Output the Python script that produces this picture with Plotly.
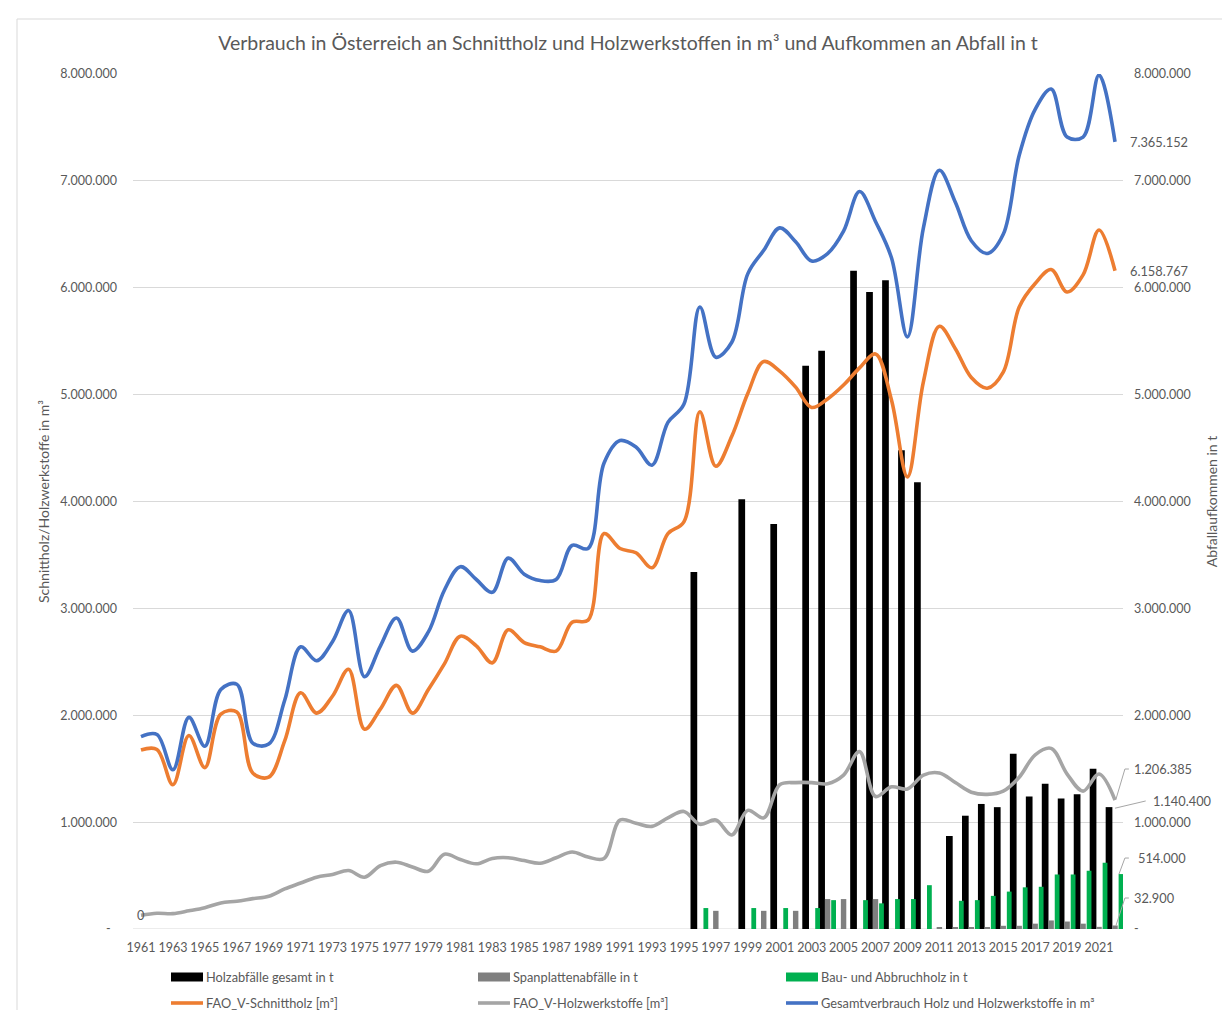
import plotly.graph_objects as go

# ---------------- data ----------------
years = list(range(1961, 2023))

# FAO_V-Schnittholz [m³]
schnittholz = [
    1675000, 1680000, 1350000, 1810000, 1510000, 2010000, 2030000, 1460000, 1420000, 1760000,
    2210000, 2020000, 2180000, 2430000, 1870000, 2060000, 2280000, 2020000, 2240000, 2480000,
    2740000, 2650000, 2490000, 2800000, 2680000, 2640000, 2600000, 2870000, 2890000, 3700000,
    3560000, 3520000, 3380000, 3700000, 3810000, 4840000, 4330000, 4610000, 5010000, 5310000,
    5220000, 5070000, 4880000, 4960000, 5090000, 5250000, 5380000, 4950000, 4230000, 5120000,
    5640000, 5430000, 5160000, 5060000, 5210000, 5820000, 6040000, 6170000, 5960000, 6120000,
    6540000, 6158767,
]

# FAO_V-Holzwerkstoffe [m³]
holzwerkstoffe = [
    128000, 147000, 144000, 170000, 200000, 244000, 260000, 284000, 306000, 375000,
    430000, 485000, 510000, 547000, 485000, 594000, 625000, 580000, 540000, 700000,
    650000, 610000, 660000, 667000, 640000, 616000, 667000, 720000, 673000, 660000,
    1020000, 990000, 960000, 1040000, 1100000, 980000, 1020000, 880000, 1110000, 1040000,
    1350000, 1370000, 1370000, 1360000, 1440000, 1660000, 1240000, 1330000, 1310000, 1440000,
    1460000, 1370000, 1280000, 1260000, 1290000, 1420000, 1630000, 1690000, 1450000, 1290000,
    1450000, 1206385,
]

# Gesamtverbrauch Holz und Holzwerkstoffe in m³
gesamt = [
    1800000, 1820000, 1490000, 1980000, 1710000, 2240000, 2290000, 1740000, 1730000, 2140000,
    2640000, 2510000, 2690000, 2980000, 2360000, 2650000, 2910000, 2600000, 2780000, 3170000,
    3390000, 3270000, 3150000, 3470000, 3320000, 3260000, 3270000, 3590000, 3560000, 4360000,
    4570000, 4510000, 4340000, 4740000, 4910000, 5820000, 5350000, 5490000, 6130000, 6350000,
    6560000, 6430000, 6250000, 6320000, 6530000, 6900000, 6620000, 6280000, 5540000, 6560000,
    7100000, 6800000, 6440000, 6320000, 6500000, 7240000, 7670000, 7860000, 7410000, 7410000,
    7990000, 7365152,
]

# Holzabfälle gesamt in t
abfall_jahre = [1996, 1999, 2001, 2003, 2004, 2006, 2007, 2008, 2009, 2010,
                2012, 2013, 2014, 2015, 2016, 2017, 2018, 2019, 2020, 2021, 2022]
abfall_gesamt = [3340000, 4020000, 3790000, 5270000, 5410000, 6160000, 5960000, 6070000, 4480000, 4180000,
                 870000, 1060000, 1170000, 1140000, 1640000, 1240000, 1360000, 1220000, 1260000, 1500000, 1140400]

# Spanplattenabfälle in t
span_jahre = [1997, 2000, 2002, 2004, 2005, 2007, 2011, 2012, 2013, 2014,
              2015, 2016, 2017, 2018, 2019, 2020, 2021, 2022]
span_abfall = [170000, 170000, 170000, 280000, 280000, 280000, 12000, 10000, 10000, 12000,
               30000, 30000, 50000, 80000, 70000, 50000, 20000, 32900]

# Bau- und Abbruchholz in t
bau_jahre = [1996, 1999, 2001, 2003, 2004, 2006, 2007, 2008, 2009, 2010,
             2012, 2013, 2014, 2015, 2016, 2017, 2018, 2019, 2020, 2021, 2022]
bau_abbruch = [196000, 196000, 196000, 196000, 270000, 270000, 240000, 280000, 280000, 410000,
               264000, 270000, 310000, 350000, 390000, 395000, 510000, 510000, 545000, 620000, 514000]

tick_years = list(range(1961, 2022, 2))
y_ticks = list(range(0, 8000001, 1000000))


def fmt(v):
    return "-" if v == 0 else f"{v:,}".replace(",", ".")


y_ticktext_left = [fmt(v) if v else "-\u00a0\u00a0" for v in y_ticks]
y_ticktext_right = [fmt(v) for v in y_ticks]

# ---------------- style ----------------
FONT = "Lato"
TXT = "#595959"
GRID = "#D9D9D9"
C_BLACK = "#000000"
C_SPAN = "#7F7F7F"
C_GREEN = "#00B050"
C_ORANGE = "#ED7D31"
C_GRAYL = "#A5A5A5"
C_BLUE = "#4472C4"

W, H = 1230, 1010
ML, MR, MT, MB = 125, 115, 66, 89
PW, PH = W - ML - MR, H - MT - MB


def px_x(px):
    return (px - ML) / PW


def px_y(py):
    return (H - MB - py) / PH


fig = go.Figure()

# bars (waste, right axis "y")
fig.add_trace(go.Bar(x=abfall_jahre, y=abfall_gesamt, name="Holzabfälle gesamt in t",
                     marker_color=C_BLACK, marker_line_width=0, width=0.42, offset=-0.585,
                     yaxis="y", showlegend=False))
fig.add_trace(go.Bar(x=span_jahre, y=span_abfall, name="Spanplattenabfälle in t",
                     marker_color=C_SPAN, marker_line_width=0, width=0.34, offset=-0.17,
                     yaxis="y", showlegend=False))
fig.add_trace(go.Bar(x=bau_jahre, y=bau_abbruch, name="Bau- und Abbruchholz in t",
                     marker_color=C_GREEN, marker_line_width=0, width=0.3, offset=0.225,
                     yaxis="y", showlegend=False))

# lines (consumption, left axis "y2")
line_kw = dict(mode="lines", line_shape="spline", yaxis="y2", showlegend=False)
fig.add_trace(go.Scatter(x=years, y=schnittholz, name="FAO_V-Schnittholz [m³]",
                         line=dict(color=C_ORANGE, width=3.6, smoothing=1), **line_kw))
fig.add_trace(go.Scatter(x=years, y=holzwerkstoffe, name="FAO_V-Holzwerkstoffe [m³]",
                         line=dict(color=C_GRAYL, width=3.6, smoothing=1), **line_kw))
fig.add_trace(go.Scatter(x=years, y=gesamt, name="Gesamtverbrauch Holz und Holzwerkstoffe in m³",
                         line=dict(color=C_BLUE, width=3.6, smoothing=1), **line_kw))

X0, X1 = 1960.5, 2022.5


def xp(year):
    return (year - X0) / (X1 - X0)


fig.update_layout(
    width=W, height=H,
    margin=dict(l=ML, r=MR, t=MT, b=MB),
    paper_bgcolor="white", plot_bgcolor="white",
    font=dict(family=FONT, color=TXT, size=12.5),
    title=dict(text="Verbrauch in Österreich an Schnittholz und Holzwerkstoffen in m³ und Aufkommen an Abfall in t",
               x=0.5, xref="paper", xanchor="center", y=1 - 35 / H, yanchor="middle",
               font=dict(size=19.5, color=TXT, family=FONT)),
    barmode="overlay",
    showlegend=False,
    xaxis=dict(range=[X0, X1], tickmode="array", tickvals=tick_years,
               ticktext=[str(y) for y in tick_years], showgrid=False, zeroline=False,
               showline=False, ticks="", tickangle=0, ticklabelstandoff=9,
               tickfont=dict(size=12.5, color=TXT)),
    yaxis=dict(range=[0, 8000000], side="right", tickmode="array", tickvals=y_ticks,
               ticktext=y_ticktext_right, showgrid=True, gridcolor=GRID, gridwidth=1,
               zeroline=False, showline=False, ticks="", ticklabelstandoff=10,
               tickfont=dict(size=12.5, color=TXT),
               title=dict(text="Abfallaufkommen in t", standoff=17, font=dict(size=14, color=TXT))),
    yaxis2=dict(range=[0, 8000000], side="left", overlaying="y", tickmode="array",
                tickvals=y_ticks, ticktext=y_ticktext_left, showgrid=False, zeroline=False,
                showline=False, ticks="", ticklabelstandoff=15,
                tickfont=dict(size=12.5, color=TXT),
                title=dict(text="Schnittholz/Holzwerkstoffe in m³", standoff=7,
                           font=dict(size=14, color=TXT))),
)

# bottom gridline (zero)
fig.add_shape(type="line", xref="paper", yref="y", x0=0, x1=1, y0=0, y1=0,
              line=dict(color=GRID, width=1), layer="below")

# chart-area border
fig.add_shape(type="rect", xref="paper", yref="paper",
              x0=px_x(9), x1=px_x(1224), y0=px_y(1030), y1=px_y(11),
              line=dict(color=GRID, width=1), fillcolor="rgba(0,0,0,0)", layer="below")

# data labels
lab_x = xp(2022) + 0.011
ann = [
    dict(text=fmt(gesamt[-1]), x=lab_x + 0.002, y=gesamt[-1]),
    dict(text=fmt(schnittholz[-1]), x=lab_x + 0.002, y=schnittholz[-1]),
    dict(text=fmt(holzwerkstoffe[-1]), x=lab_x + 0.006, y=1497000),
    dict(text=fmt(abfall_gesamt[-1]), x=lab_x + 0.025, y=1198000),
    dict(text=fmt(bau_abbruch[-1]), x=lab_x + 0.010, y=664000),
    dict(text=fmt(span_abfall[-1]), x=lab_x + 0.006, y=290000),
]
for a in ann:
    fig.add_annotation(xref="paper", yref="y2", showarrow=False, yanchor="middle", xanchor="left",
                       font=dict(size=12.8, color=TXT, family=FONT), **a)

# "0" label at start of the Holzwerkstoffe line
fig.add_annotation(x=years[0], y=holzwerkstoffe[0], xref="x", yref="y2", text="0", showarrow=False,
                   xanchor="center", yanchor="middle", font=dict(size=12.8, color=TXT, family=FONT))

# leader lines
x22 = xp(2022)
LC = dict(color="#A6A6A6", width=1)
leaders = [
    [(x22 + 0.001, holzwerkstoffe[-1] + 10000), (x22 + 0.010, 1497000), (x22 + 0.014, 1497000)],
    [(x22, abfall_gesamt[-1] - 10000), (x22 + 0.031, 1198000)],
    [(x22 + 0.004, bau_abbruch[-1]), (x22 + 0.010, 664000), (x22 + 0.014, 664000)],
    [(x22 + 0.001, span_abfall[-1]), (x22 + 0.010, 290000), (x22 + 0.014, 290000)],
]
for pts in leaders:
    path = "M " + " L ".join(f"{px},{py}" for px, py in pts)
    fig.add_shape(type="path", xref="paper", yref="y2", path=path, line=LC)

# legend (drawn manually so bar keys are wide rectangles like the original)
legend_items = [
    ("bar", C_BLACK, "Holzabfälle gesamt in t", 163, 969),
    ("bar", C_SPAN, "Spanplattenabfälle in t", 470, 969),
    ("bar", C_GREEN, "Bau- und Abbruchholz in t", 778, 969),
    ("line", C_ORANGE, "FAO_V-Schnittholz [m³]", 163, 995),
    ("line", C_GRAYL, "FAO_V-Holzwerkstoffe [m³]", 470, 995),
    ("line", C_BLUE, "Gesamtverbrauch Holz und Holzwerkstoffe in m³", 778, 995),
]
for kind, col, label, lx, ly in legend_items:
    if kind == "bar":
        fig.add_shape(type="rect", xref="paper", yref="paper",
                      x0=px_x(lx), x1=px_x(lx + 32), y0=px_y(ly + 4.5), y1=px_y(ly - 4.5),
                      fillcolor=col, line=dict(width=0))
    else:
        fig.add_shape(type="line", xref="paper", yref="paper",
                      x0=px_x(lx), x1=px_x(lx + 32), y0=px_y(ly), y1=px_y(ly),
                      line=dict(color=col, width=3.6))
    fig.add_annotation(xref="paper", yref="paper", x=px_x(lx + 33), y=px_y(ly), text=label,
                       showarrow=False, xanchor="left", yanchor="middle",
                       font=dict(size=12.8, color=TXT, family=FONT))

fig.write_html("out.html")
